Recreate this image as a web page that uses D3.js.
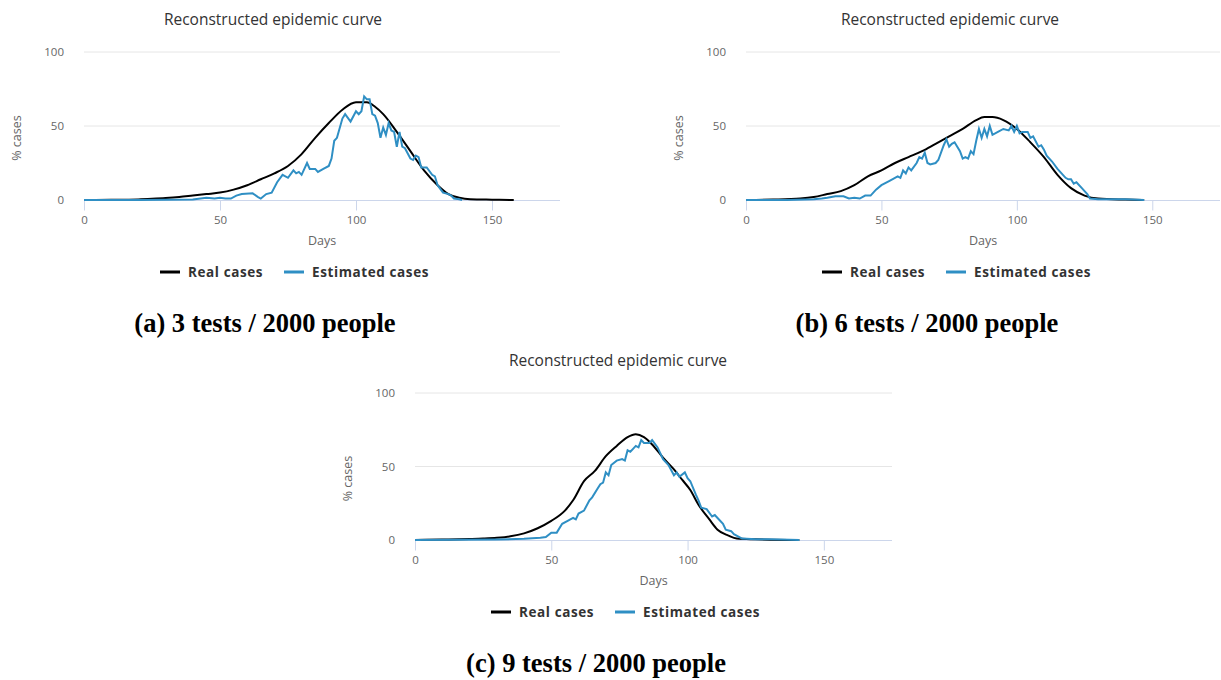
<!DOCTYPE html>
<html><head><meta charset="utf-8">
<script src="https://cdn.jsdelivr.net/npm/d3@7"></script>
<style>body{margin:0;background:#fff}svg{display:block}</style>
</head><body><svg id="c" width="1221" height="680"></svg>
<script>
// [day, value] pairs
const realA=[[0,0],[10,0.1],[20,0.4],[25,0.8],[30,1.3],[35,2],[40,3],[45,4],[50,5],[55,7],[60,10],[65,14],[70,18],[75,23],[80,31],[85,42],[90,52],[95,61],[100,66],[104,66],[107,63],[110,58],[115,46],[120,33],[125,20],[130,10],[134,4],[138,1.5],[142,0.5],[150,0.2],[158,0]];
const estA=[[0,0],[20,0],[40,0.3],[45,1.5],[48,1],[50,1.5],[52,1],[54,1],[56,3],[58,4],[62,4.5],[64,2],[65,1],[67,4],[69,5],[71,12],[73,17],[75,15],[77,20],[78,18],[79,19],[80,17],[82,25],[83,21],[85,21],[86,19],[88,21],[90,23],[91,28],[92,40],[93,42],[95,55],[96,58],[98,53],[100,60],[101,58],[102,60],[103,70],[104,68],[105,68],[106,58],[107,57],[108,52],[109,42],[110,49],[111,44],[112,52],[113,47],[114,46],[115,36],[116,46],[117,36],[118,35],[120,28],[121,27],[122,30],[123,29],[124,22],[126,22],[128,17],[129,16],[130,10],[132,5],[134,4],[135,3],[136,1],[138,0.5],[139,0]];
const realB=[[0,0],[10,0.3],[20,1],[25,2],[30,4],[35,6],[40,10],[45,16],[50,20],[55,25],[60,29],[65,33],[70,38],[75,43],[80,48],[85,54],[88,56],[91,56],[95,54],[100,48],[105,39],[110,29],[115,17],[120,8],[125,3],[130,1],[140,0.3],[147,0]];
const estB=[[0,0],[15,0],[25,0.5],[28,1],[30,1.5],[33,2.5],[36,2.5],[38,1],[40,1.5],[42,1],[44,3],[46,3],[48,7],[50,10],[53,13],[56,16],[57,15],[58,20],[59,18],[60,22],[61,20],[63,25],[64,29],[65,28],[66,32],[67,25],[68,24],[70,25],[71,27],[73,37],[74,41],[75,36],[76,38],[77,39],[79,33],[80,28],[81,29],[82,28],[83,33],[84,31],[85,40],[86,48],[87,42],[88,48],[89,43],[90,50],[91,44],[93,46],[95,48],[97,47],[98,50],[99,46],[100,50],[101,45],[102,46],[104,46],[105,42],[106,43],[108,36],[109,37],[110,34],[111,30],[113,26],[115,21],[117,17],[118,15],[119,14],[120,14],[121,11],[122,12],[124,8],[125,6],[126,4],[127,1],[130,0.5],[140,0.5],[147,0]];
const realC=[[0,0],[10,0.3],[20,0.7],[25,1],[30,1.5],[35,2.5],[40,4.5],[45,8],[50,13],[55,20],[58,27],[62,40],[66,47],[70,57],[74,64],[78,70],[81,72],[84,70],[87,65],[91,56],[95,48],[98,41],[101,34],[104,24],[108,14],[111,7],[115,3],[118,1],[125,0.5],[141,0]];
const estC=[[0,0],[30,0.3],[40,0.8],[46,1.5],[48,2],[50,5],[52,5],[54,11],[56,13],[58,15],[59,14],[60,18],[62,20],[64,27],[65,29],[67,35],[68,38],[69,39],[70,46],[71,44],[72,51],[74,54],[76,55],[77,54],[78,61],[79,60],[80,62],[81,64],[82,63],[83,68],[84,66],[86,66],[87,68],[89,63],[91,55],[93,51],[95,44],[96,46],[97,43],[99,46],[100,42],[101,40],[103,31],[104,27],[105,22],[107,21],[109,16],[110,17],[111,15],[113,11],[114,7],[116,6],[117,4],[119,2],[120,1],[125,0.5],[130,0.5],[141,0]];
const xTicks=[0,50,100,150], yTicks=[0,50,100];
const captions=["(a) 3 tests / 2000 people","(b) 6 tests / 2000 people","(c) 9 tests / 2000 people"];
const titleText="Reconstructed epidemic curve", legendNames=["Real cases","Estimated cases"];

const svg=d3.select("#c");
const F="'Open Sans',sans-serif";
const panels=[
 {x0:84,x1:560,y0:200,y1:52,real:realA,est:estA,cap:captions[0],cx:265,cy:332,tx:273,lc:291},
 {x0:746,x1:1220,y0:200,y1:52,real:realB,est:estB,cap:captions[1],cx:927,cy:332,tx:950,lc:953},
 {x0:415,x1:892,y0:540,y1:393,real:realC,est:estC,cap:captions[2],cx:596,cy:672,tx:618,lc:622}];
panels.forEach(p=>{
  const x=d3.scaleLinear().domain([0,175]).range([p.x0,p.x1]);
  const y=d3.scaleLinear().domain([0,100]).range([p.y0,p.y1]);
  const g=svg.append("g");
  g.append("text").attr("x",p.tx).attr("y",p.y1-27).attr("text-anchor","middle").attr("font-family",F).attr("font-size",15.5).attr("fill","#333").text(titleText);
  yTicks.forEach(t=>{
    if(t>0) g.append("line").attr("x1",p.x0).attr("x2",p.x1).attr("y1",y(t)).attr("y2",y(t)).attr("stroke","#e6e6e6");
    g.append("text").attr("x",p.x0-20).attr("y",y(t)+4).attr("text-anchor","end").attr("font-family",F).attr("font-size",11.5).attr("fill","#666").text(t);
  });
  g.append("line").attr("x1",p.x0).attr("x2",p.x1).attr("y1",p.y0+0.5).attr("y2",p.y0+0.5).attr("stroke","#ccd6eb");
  const xa=g.append("g").attr("transform",`translate(0,${p.y0+0.5})`).call(d3.axisBottom(x).tickValues(xTicks).tickSize(10).tickPadding(5));
  xa.select(".domain").remove();
  xa.selectAll("line").attr("stroke","#ccd6eb");
  xa.selectAll("text").attr("font-family",F).attr("font-size",11.5).attr("fill","#666");
  g.append("text").attr("x",(p.x0+p.x1)/2).attr("y",p.y0+45).attr("text-anchor","middle").attr("font-family",F).attr("font-size",12.5).attr("fill","#666").text("Days");
  g.append("text").attr("transform",`translate(${p.x0-63},${(p.y0+p.y1)/2+12}) rotate(-90)`).attr("text-anchor","middle").attr("font-family",F).attr("font-size",12.5).attr("fill","#666").text("% cases");
  const line=d3.line().x(d=>x(d[0])).y(d=>y(d[1]));
  g.append("path").attr("d",line.curve(d3.curveMonotoneX)(p.real)).attr("fill","none").attr("stroke","#000").attr("stroke-width",2);
  g.append("path").attr("d",d3.line().x(d=>x(d[0])).y(d=>y(d[1]))(p.est)).attr("fill","none").attr("stroke","#2f8fc4").attr("stroke-width",2);
  const ly=p.y0+77, lx=p.lc-131;
  [["#000",legendNames[0],lx],["#2f8fc4",legendNames[1],lx+124]].forEach(([c,t,xx])=>{
    g.append("line").attr("x1",xx).attr("x2",xx+20).attr("y1",ly-5).attr("y2",ly-5).attr("stroke",c).attr("stroke-width",3);
    g.append("text").attr("x",xx+28).attr("y",ly).attr("font-family",F).attr("font-weight","bold").attr("font-size",13.5).attr("letter-spacing",0.6).attr("fill","#333").text(t);
  });
  svg.append("text").attr("x",p.cx).attr("y",p.cy).attr("text-anchor","middle").attr("font-family","'Liberation Serif',serif").attr("font-weight","bold").attr("font-size",26.5).attr("fill","#000").text(p.cap);
});
</script></body></html>
